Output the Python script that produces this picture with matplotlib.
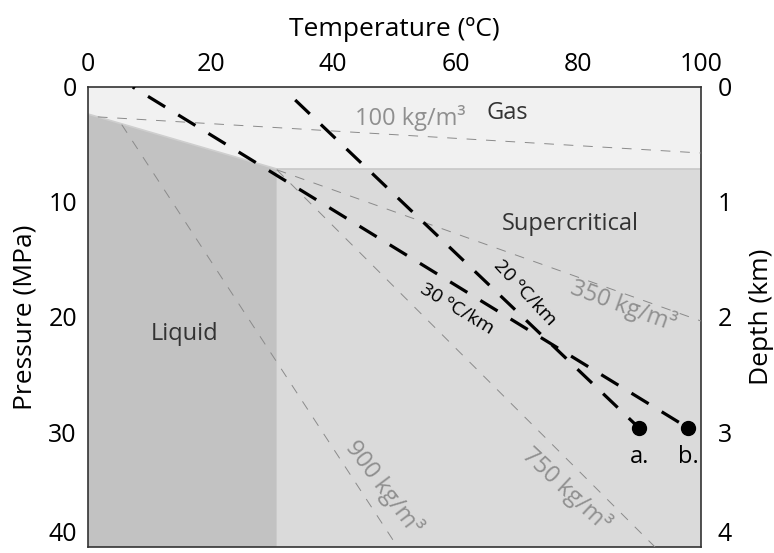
import numpy as np
import matplotlib
matplotlib.use("Agg")
import matplotlib.pyplot as plt

plt.rcParams['font.family'] = ['Open Sans', 'DejaVu Sans']

# phase boundaries (temperature degC, pressure MPa)
sat_T = [0.0, 30.8]
sat_P = [2.35, 7.13]
crit_T, crit_P = 30.8, 7.13

# density isolines
iso_100_T = [1.6, 100.0]
iso_100_P = [2.6, 5.74]
iso_350_T = [30.8, 100.0]
iso_350_P = [7.2, 20.35]
iso_750_T = [30.8, 92.5]
iso_750_P = [7.2, 40.0]
iso_900_T = [5.5, 50.5]
iso_900_P = [3.27, 40.0]

# geothermal gradients
grad30_T = [7.3, 97.9]
grad30_P = [0.0, 29.65]
grad20_T = [33.8, 89.9]
grad20_P = [1.13, 29.65]

gas_col = '#f1f1f1'
sc_col = '#dadada'
liq_col = '#c2c2c2'
iso_col = '#8a8a8a'
txt_gray = '#8f8f8f'

fig = plt.figure(figsize=(7.74, 5.53), dpi=100)
ax = fig.add_axes([88/774, 6/553, 613/774, 460/553])
ax.set_xlim(0, 100)
ax.set_ylim(40, 0)
ax.set_facecolor(gas_col)

# supercritical + liquid regions
ax.fill_between([crit_T, 100], [crit_P, crit_P], 40, color=sc_col, lw=0, zorder=1)
ax.fill(sat_T + [crit_T, 0], sat_P + [40, 40], color=liq_col, lw=0, zorder=1)
ax.plot(sat_T, sat_P, color='#cfcfcf', lw=1.2, zorder=2)
ax.plot([crit_T, 100], [crit_P, crit_P], color='#c8c8c8', lw=1.2, zorder=2)

for xs, ys in [(iso_100_T, iso_100_P), (iso_350_T, iso_350_P),
               (iso_750_T, iso_750_P), (iso_900_T, iso_900_P)]:
    ax.plot(xs, ys, color=iso_col, lw=0.7, dashes=(10, 10), zorder=3)

ax.plot(grad30_T, grad30_P, color='black', lw=2.3, ls=(5.5, (6.3, 4.8)), zorder=4)
ax.plot(grad20_T, grad20_P, color='black', lw=2.3, ls=(0, (6.3, 4.8)), zorder=4)
ax.plot([grad20_T[-1], grad30_T[-1]], [grad20_P[-1], grad30_P[-1]], 'o',
        color='black', ms=10, zorder=5)

# labels
ax.text(68.4, 2.3, 'Gas', fontsize=17, color='#333333', ha='center', va='center')
ax.text(78.6, 11.9, 'Supercritical', fontsize=17, color='#333333', ha='center', va='center')
ax.text(15.8, 21.5, 'Liquid', fontsize=17, color='#333333', ha='center', va='center')
ax.text(52.6, 2.7, '100 kg/m³', fontsize=17, color=txt_gray, ha='center', va='center')
ax.text(87.3, 19.0, '350 kg/m³', fontsize=17, color=txt_gray, ha='center', va='center',
        rotation=-20)
ax.text(78.1, 35.0, '750 kg/m³', fontsize=17, color=txt_gray, ha='center', va='center',
        rotation=-43)
ax.text(48.3, 34.8, '900 kg/m³', fontsize=17, color=txt_gray, ha='center', va='center',
        rotation=-53)
ax.text(71.3, 17.9, '20 ºC/km', fontsize=14, color='black', ha='center', va='center',
        rotation=-47)
ax.text(60.2, 19.3, '30 ºC/km', fontsize=14, color='black', ha='center', va='center',
        rotation=-31)
ax.text(90.0, 32.2, 'a.', fontsize=17, ha='center', va='center')
ax.text(97.9, 32.2, 'b.', fontsize=17, ha='center', va='center')

# axes styling
ax.xaxis.tick_top()
ax.xaxis.set_label_position('top')
ax.set_xticks([0, 20, 40, 60, 80, 100])
ax.set_yticks([0, 10, 20, 30, 40])
ax.tick_params(axis='x', length=0, pad=7, labelsize=18)
ax.tick_params(axis='y', length=0, pad=8, labelsize=18)
ax.set_xlabel('Temperature (ºC)', fontsize=19, labelpad=12)
ax.set_ylabel('Pressure (MPa)', fontsize=19, labelpad=8)
for s in ax.spines.values():
    s.set_color('#333333')
    s.set_linewidth(1.2)

ax2 = ax.twinx()
ax2.set_ylim(4, 0)
ax2.set_yticks([0, 1, 2, 3, 4])
ax2.tick_params(axis='y', length=0, pad=12, labelsize=18)
ax2.set_ylabel('Depth (km)', fontsize=19, labelpad=12)
for s in ax2.spines.values():
    s.set_visible(False)

ax.get_yticklabels()[-1].set_va('bottom')
ax2.get_yticklabels()[-1].set_va('bottom')

fig.savefig('out.png', dpi=100)
